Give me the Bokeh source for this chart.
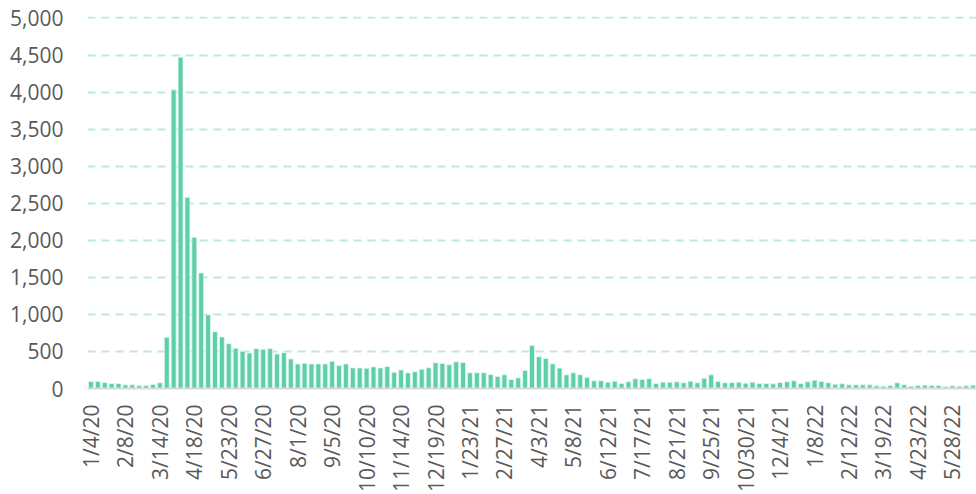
import math
import pandas as pd
from bokeh.plotting import figure
from bokeh.models import Range1d, FixedTicker, NumeralTickFormatter, ColumnDataSource
from bokeh.embed import file_html
from bokeh.resources import INLINE

# weekly series starting 1/4/20
start_date = "2020-01-04"
values = [
    95, 95, 80, 67, 67, 50, 50, 40, 40, 54,
    76, 690, 4030, 4470, 2580, 2040, 1560, 995, 767, 695,
    605, 543, 502, 480, 538, 529, 538, 466, 484, 399,
    332, 341, 332, 332, 332, 368, 309, 332, 278, 278,
    274, 291, 278, 296, 220, 251, 211, 225, 261, 279,
    347, 338, 320, 360, 351, 212, 212, 212, 189, 162,
    185, 122, 144, 243, 581, 428, 405, 333, 275, 185,
    212, 185, 149, 104, 104, 86, 99, 68, 90, 131,
    122, 131, 68, 86, 86, 90, 77, 99, 77, 140,
    185, 95, 77, 81, 86, 72, 86, 68, 68, 63,
    81, 90, 104, 68, 90, 113, 95, 77, 59, 63,
    50, 50, 50, 50, 36, 32, 41, 77, 50, 32,
    41, 45, 41, 41, 27, 36, 32, 36, 45,
]
tick_labels = [
    "1/4/20", "2/8/20", "3/14/20", "4/18/20", "5/23/20", "6/27/20", "8/1/20",
    "9/5/20", "10/10/20", "11/14/20", "12/19/20", "1/23/21", "2/27/21", "4/3/21",
    "5/8/21", "6/12/21", "7/17/21", "8/21/21", "9/25/21", "10/30/21", "12/4/21",
    "1/8/22", "2/12/22", "3/19/22", "4/23/22", "5/28/22",
]
tick_every = 5
y_ticks = [0, 500, 1000, 1500, 2000, 2500, 3000, 3500, 4000, 4500, 5000]

dates = pd.date_range(start_date, periods=len(values), freq="7D")
idx = list(range(len(values)))
src = ColumnDataSource(dict(x=idx, top=values,
                            date=[d.strftime("%m/%d/%y") for d in dates]))

FONT = "Open Sans"
TXT = "#595959"

p = figure(width=976, height=494, output_backend="svg", toolbar_location=None,
           x_range=Range1d(-0.5, len(values) - 0.5), y_range=Range1d(0, 5020),
           min_border_left=87, min_border_right=0, min_border_top=16,
           min_border_bottom=105)
p.outline_line_color = None
p.background_fill_color = "white"
p.border_fill_color = "white"

p.vbar(x="x", top="top", width=0.72, source=src, fill_color="#5dcfaa",
       line_color="#e4f7f0", line_width=0.8)

p.xgrid.grid_line_color = None
p.ygrid.grid_line_color = "#bde9da"
p.ygrid.grid_line_width = 2
p.ygrid.grid_line_dash = "8 6"
p.ygrid.ticker = FixedTicker(ticks=y_ticks)

p.yaxis.ticker = FixedTicker(ticks=y_ticks)
p.yaxis.formatter = NumeralTickFormatter(format="0,0")
p.yaxis.axis_line_color = None
p.yaxis.major_tick_line_color = None
p.yaxis.minor_tick_line_color = None
p.yaxis.major_tick_out = 0
p.yaxis.major_tick_in = 0
p.yaxis.major_label_standoff = 24
p.yaxis.major_label_text_font = FONT
p.yaxis.major_label_text_font_size = "21px"
p.yaxis.major_label_text_color = TXT

tick_pos = [i * tick_every for i in range(len(tick_labels))]
p.xaxis.ticker = FixedTicker(ticks=tick_pos)
p.xaxis.major_label_overrides = {pos: lab for pos, lab in zip(tick_pos, tick_labels)}
p.xaxis.major_label_orientation = math.pi / 2
p.xaxis.axis_line_color = "#d9d9d9"
p.xaxis.axis_line_width = 2
p.xaxis.major_tick_line_color = None
p.xaxis.minor_tick_line_color = None
p.xaxis.major_tick_out = 0
p.xaxis.major_tick_in = 0
p.xaxis.major_label_standoff = 16
p.xaxis.major_label_text_font = FONT
p.xaxis.major_label_text_font_size = "21px"
p.xaxis.major_label_text_color = TXT

open("out.html", "w").write(file_html(p, INLINE))
